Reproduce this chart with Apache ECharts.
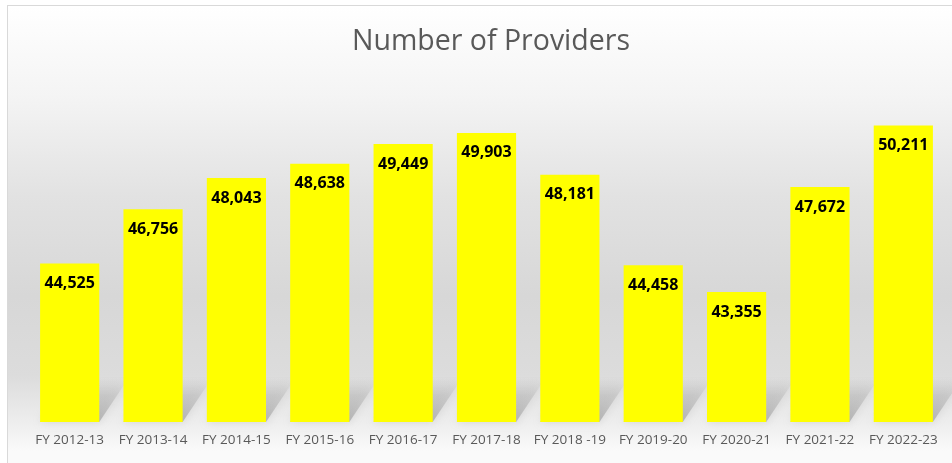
<!DOCTYPE html>
<html>
<head>
<meta charset="utf-8">
<script src="https://cdn.jsdelivr.net/npm/echarts@6/dist/echarts.min.js"></script>
<style>
	html, body { margin: 0; padding: 0; background: #fff; }
	.frame {
		position: absolute; left: 7px; top: 5px; width: 960px; height: 470px;
		border: 1px solid #d9d9d9;
		background: linear-gradient(to bottom, #ffffff 0px, #f4f4f4 90px, #e2e2e2 190px, #d7d7d7 290px, #dcdcdc 370px, #f1f1f1 425px, #fafafa 445px);
	}
	#main { position: absolute; left: 0; top: 0; width: 952px; height: 463px; }
</style>
</head>
<body>
<div class="frame"></div>
<div id="main"></div>
<script>
	// 图表数据
	var categories = ['FY 2012-13', 'FY 2013-14', 'FY 2014-15', 'FY 2015-16', 'FY 2016-17', 'FY 2017-18',
		'FY 2018 -19', 'FY 2019-20', 'FY 2020-21', 'FY 2021-22', 'FY 2022-23'];
	var providers = [44525, 46756, 48043, 48638, 49449, 49903, 48181, 44458, 43355, 47672, 50211];
	var yMin = 38000, yMax = 52000;

	var shadowData = providers.map(function (v, i) { return [i, v]; });

	var myChart = echarts.init(document.getElementById('main'));
	myChart.setOption({
		title: {
			text: 'Number of Providers',
			left: 347,
			top: 22,
			textStyle: { fontFamily: 'Open Sans', fontSize: 28.5, fontWeight: 'normal', color: '#595959' }
		},
		grid: { left: 28, right: 7, top: 82, bottom: 41 },
		xAxis: {
			type: 'category',
			data: categories,
			axisLine: { show: false },
			axisTick: { show: false },
			axisLabel: { color: '#595959', fontFamily: 'Open Sans', fontSize: 13.5, margin: 11, interval: 0 }
		},
		yAxis: {
			type: 'value',
			min: yMin,
			max: yMax,
			show: false,
			splitLine: { show: false }
		},
		series: [
			{
				// 柱子底部的斜影
				type: 'custom',
				z: 1,
				silent: true,
				data: shadowData,
				renderItem: function (params, api) {
					var base = api.coord([api.value(0), yMin]);
					var bw = api.size([1, 0])[0] * 0.71;
					var x0 = base[0] - bw / 2, x1 = base[0] + bw / 2, yb = base[1];
					var dx = 30, dy = 45;
					return {
						type: 'polygon',
						shape: { points: [[x0, yb], [x1, yb], [x1 + dx, yb - dy], [x0 + dx, yb - dy]] },
						style: {
							fill: new echarts.graphic.LinearGradient(0, 1, 0, 0, [
								{ offset: 0, color: 'rgba(160,160,160,0.7)' },
								{ offset: 0.6, color: 'rgba(175,175,175,0.4)' },
								{ offset: 1, color: 'rgba(200,200,200,0)' }
							]),
							shadowBlur: 8,
							shadowColor: 'rgba(150,150,150,0.4)'
						}
					};
				}
			},
			{
				type: 'bar',
				z: 2,
				data: providers,
				barCategoryGap: '29%',
				itemStyle: { color: '#ffff00' },
				label: {
					show: true,
					position: 'insideTop',
					distance: 12,
					color: '#000',
					fontFamily: 'Open Sans',
					fontWeight: 'bold',
					fontSize: 16,
					formatter: function (p) { return p.value.toLocaleString('en-US'); }
				}
			}
		]
	});
</script>
</body>
</html>
